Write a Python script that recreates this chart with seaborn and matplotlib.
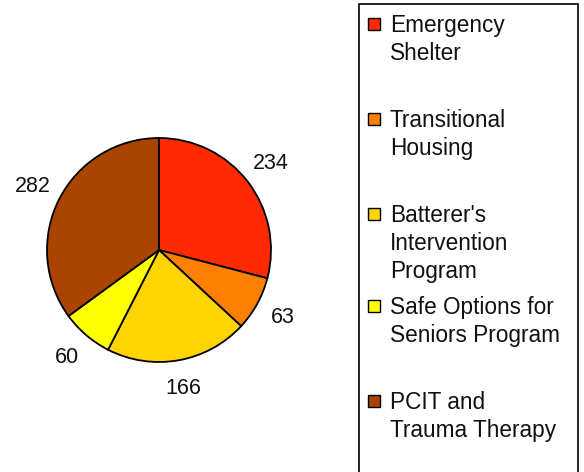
import matplotlib
matplotlib.use("Agg")
import matplotlib.pyplot as plt
from matplotlib.patches import Rectangle
import seaborn as sns

categories = ["Emergency\nShelter", "Transitional\nHousing", "Batterer's\nIntervention\nProgram",
              "Safe Options for\nSeniors Program", "PCIT and\nTrauma Therapy"]
values = [234, 63, 166, 60, 282]
colors = ["#FF2A00", "#FF7F00", "#FFD400", "#FFFF00", "#AA4400"]

sns.set_theme(style="white")
plt.rcParams['font.family'] = ['Liberation Sans', 'DejaVu Sans']

W, H = 584, 472
fig = plt.figure(figsize=(W / 100, H / 100), dpi=100)
fig.patch.set_facecolor("white")

cx, cy, r = 159, 250, 112
ax = fig.add_axes([(cx - r) / W, (H - cy - r) / H, 2 * r / W, 2 * r / H])
wedges, texts = ax.pie(values, colors=colors, startangle=90, counterclock=False,
                       labels=[str(v) for v in values], labeldistance=1.26,
                       wedgeprops=dict(edgecolor="black", linewidth=1.3),
                       textprops=dict(fontsize=15.5, color="#111111"))
for t in texts:
    t.set_ha("center")
    t.set_va("center")
ax.set_xlim(-1, 1)
ax.set_ylim(-1, 1)
ax.set_aspect("equal")
ax.axis("off")

# legend box
fig.add_artist(Rectangle((359 / W, (H - 480) / H), (578 - 359) / W, 476 / H,
                         transform=fig.transFigure, facecolor="white",
                         edgecolor="black", linewidth=1.2, zorder=0))

first_baselines = [32, 127, 222, 314, 409]
line_step = 28
for lab, col, yb in zip(categories, colors, first_baselines):
    fig.add_artist(Rectangle((368 / W, (H - yb + 2) / H), 12 / W, 12 / H,
                             transform=fig.transFigure, facecolor=col,
                             edgecolor="black", linewidth=1.0))
    for i, line in enumerate(lab.split("\n")):
        fig.text(390 / W, (H - yb - i * line_step) / H, line, fontsize=16.3,
                 ha="left", va="baseline", color="#111111")

fig.savefig("out.png", dpi=100)
